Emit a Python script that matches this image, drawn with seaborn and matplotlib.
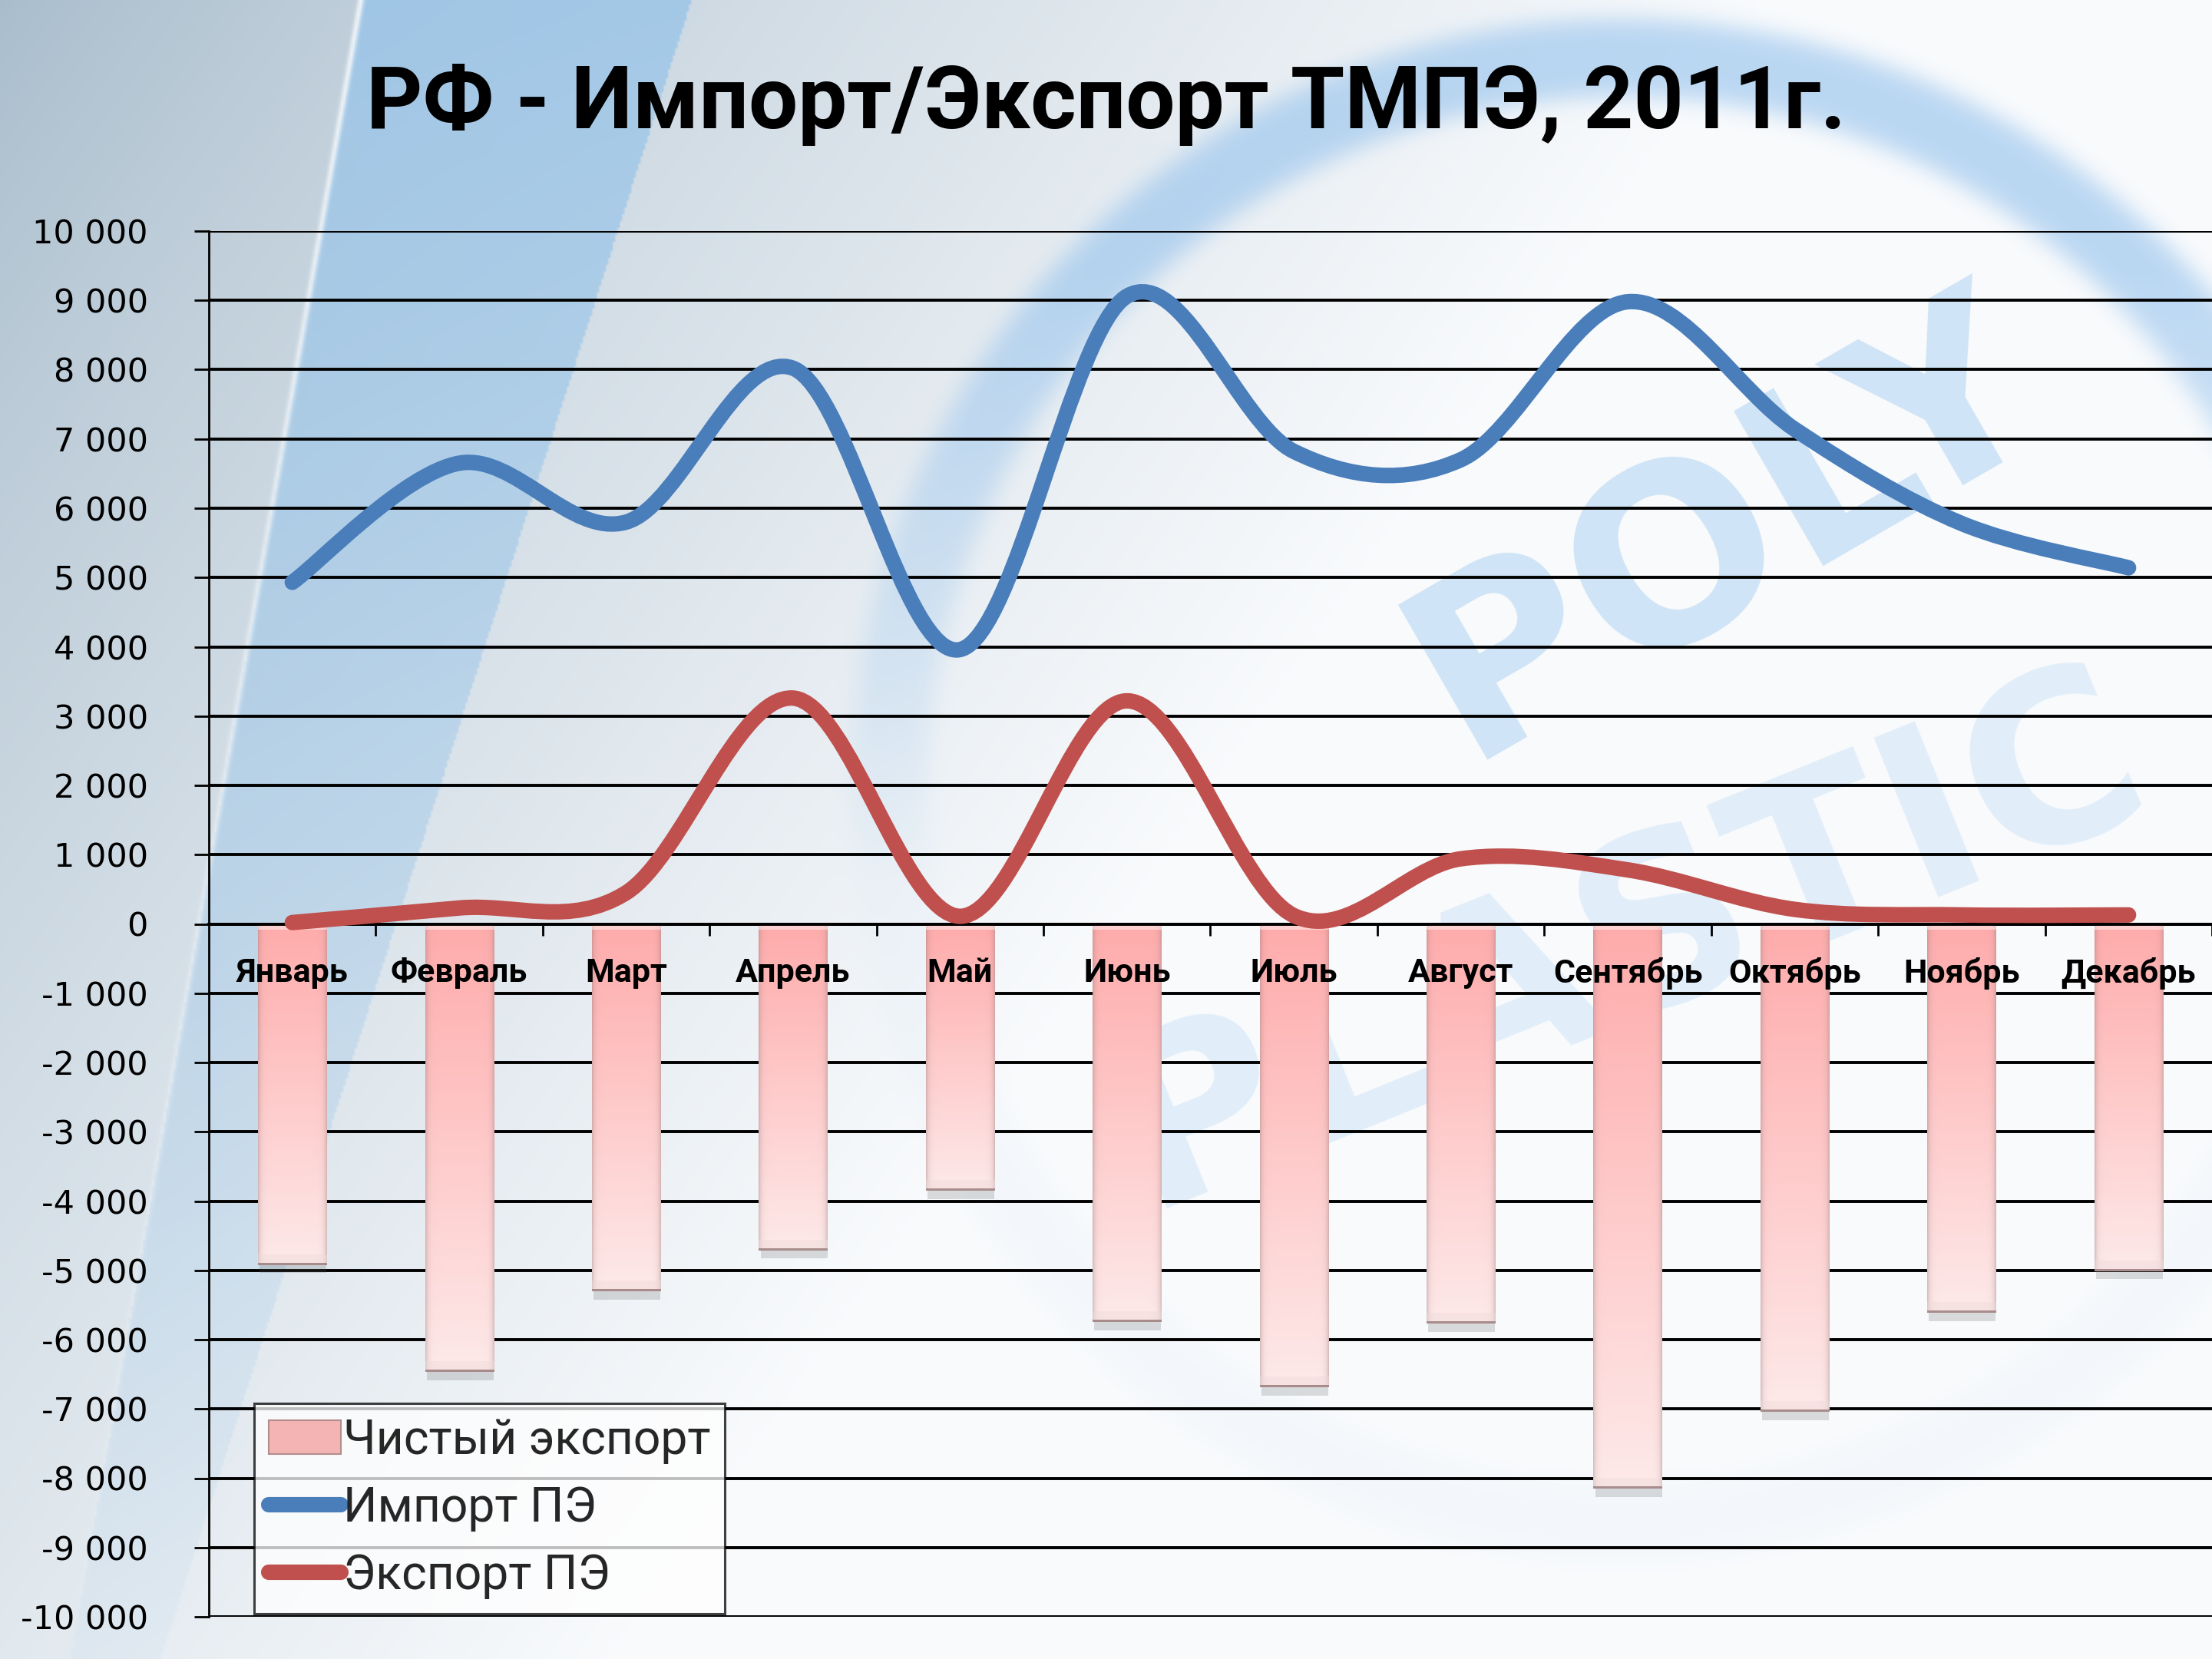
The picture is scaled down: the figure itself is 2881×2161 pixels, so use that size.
import numpy as np
import pandas as pd
import matplotlib
matplotlib.use("Agg")
import matplotlib.pyplot as plt
import seaborn as sns
from matplotlib.path import Path
from matplotlib.patches import PathPatch, Rectangle, Patch
from matplotlib.lines import Line2D

# ---------------- data ----------------
months = ["Январь", "Февраль", "Март", "Апрель", "Май", "Июнь",
          "Июль", "Август", "Сентябрь", "Октябрь", "Ноябрь", "Декабрь"]
import_pe = [4930, 6650, 5800, 8020, 3960, 9060, 6820, 6700, 8980, 7140, 5780, 5140]
export_pe = [20, 230, 450, 3260, 110, 3220, 120, 940, 780, 210, 130, 130]
net_export = [-4920, -6470, -5300, -4710, -3850, -5750, -6690, -5770, -8150, -7040, -5610, -5010]
y_ticks = list(range(-10000, 10001, 1000))
title = "РФ - Импорт/Экспорт ТМПЭ, 2011г."
legend_labels = ["Чистый экспорт", "Импорт ПЭ", "Экспорт ПЭ"]

W, H, DPI = 2881, 2161, 100
BLUE = "#4A7EBB"
RED = "#C0504D"

sns.set_style("white")
plt.rcParams["font.family"] = ["DejaVu Sans"]

fig = plt.figure(figsize=(W / DPI, H / DPI), dpi=DPI)

# ---------------- background (slide decoration) ----------------
h, w = H // 3, W // 3
X, Y = np.meshgrid(np.linspace(0, W, w), np.linspace(0, H, h))
c0 = np.array([0.66, 0.74, 0.80])
c1 = np.array([0.975, 0.982, 0.99])
t = np.clip(X / W * 1.25 + Y / H * 0.65, 0, 1) ** 0.8
img = c0 * (1 - t[..., None]) + c1 * t[..., None]

band_col = np.array([0.60, 0.77, 0.91])
e1 = 469 - 0.175 * Y
e2 = 900 - 0.32 * Y
inband = (X > e1) & (X < e2)
a = np.where(inband, 0.8 * np.clip(1 - Y / H * 0.9, 0, 1), 0)
img = img * (1 - a[..., None]) + band_col * a[..., None]
wl = np.exp(-((X - e1) / 4.0) ** 2) * 0.8 * np.clip(1 - Y / H, 0, 1)
img = img * (1 - wl[..., None]) + 1.0 * wl[..., None]

ring_c = np.array([0.60, 0.77, 0.93])
R = np.hypot(X - 2113, Y - 1029)
ring = np.exp(-((R - 955) / 55.0) ** 4)
ra = ring * (0.05 + 0.6 * np.clip((1150 - Y) / 800, 0, 1))
img = img * (1 - ra[..., None]) + ring_c * ra[..., None]

bgax = fig.add_axes([0, 0, 1, 1], zorder=-5)
bgax.imshow(np.clip(img, 0, 1), extent=[0, W, H, 0], aspect="auto", interpolation="bilinear")
bgax.set_xlim(0, W)
bgax.set_ylim(H, 0)
bgax.axis("off")
bgax.text(2250, 690, "POLY", rotation=30, color=(0.62, 0.79, 0.94), alpha=0.45,
          fontsize=230, fontweight="bold", ha="center", va="center")
bgax.text(2120, 1230, "PLASTIC", rotation=22, color=(0.62, 0.79, 0.94), alpha=0.25,
          fontsize=220, fontweight="bold", ha="center", va="center")

# ---------------- main axes ----------------
ax = fig.add_axes([272 / W, 1 - 2106 / H, 1 - 272 / W, (2106 - 301) / H])
ax.set_facecolor("none")

df = pd.DataFrame({"Месяц": months, "Чистый экспорт": net_export})
sns.barplot(data=df, x="Месяц", y="Чистый экспорт", ax=ax, width=0.41,
            color="#F6B8B8", saturation=1, zorder=3)

ax.set_xlim(-0.5, 11.5)
ax.set_ylim(-10000, 10000)

px_per_unit = (2106 - 301) / 20000.0
for p in list(ax.patches):
    x0, wb = p.get_x(), p.get_width()
    yb = [p.get_y(), p.get_y() + p.get_height()]
    ymin, ymax = min(yb), max(yb)
    rows = max(int(round((ymax - ymin) * px_per_unit)), 12)
    cols = 88
    tt = np.linspace(0, 1, rows)[:, None, None]
    top_c = np.array([1.0, 0.67, 0.67])
    bot_c = np.array([0.995, 0.915, 0.915])
    g = top_c * (1 - tt) + bot_c * tt
    g = np.repeat(g, cols, axis=1)
    u = np.linspace(0, 1, cols)
    edge = np.exp(-u / 0.035) + np.exp(-(1 - u) / 0.035)
    g = g * (1 - 0.35 * edge[None, :, None]) + np.array([0.55, 0.45, 0.45]) * 0.35 * edge[None, :, None]
    g[:8] = g[:8] * 0.55 + 0.45
    nb = min(14, rows // 3)
    g[rows - nb:rows - 3] = g[rows - nb:rows - 3] * 0.6 + np.array([0.93, 0.85, 0.85]) * 0.4
    g[rows - 3:] = np.array([0.66, 0.55, 0.55])
    ax.imshow(np.clip(g, 0, 1), extent=[x0, x0 + wb, ymin, ymax], origin="upper",
              aspect="auto", zorder=3, interpolation="bilinear")
    ax.add_patch(Rectangle((x0 + 0.01, ymin - 120), wb - 0.01, 120, color="0.35",
                           alpha=0.2, lw=0, zorder=2.9))
    p.set_visible(False)

ax.set_xlim(-0.5, 11.5)
ax.set_ylim(-10000, 10000)


def smooth_path(xs, ys):
    pts = np.column_stack([xs, ys]).astype(float)
    n = len(pts)
    verts = [pts[0]]
    codes = [Path.MOVETO]
    for i in range(n - 1):
        p0 = pts[max(i - 1, 0)]
        p1 = pts[i]
        p2 = pts[i + 1]
        p3 = pts[min(i + 2, n - 1)]
        verts += [p1 + (p2 - p0) / 6.0, p2 - (p3 - p1) / 6.0, p2]
        codes += [Path.CURVE4] * 3
    return Path(verts, codes)


xpos = np.arange(len(months))
for series, col in [(import_pe, BLUE), (export_pe, RED)]:
    ax.add_patch(PathPatch(smooth_path(xpos, series), facecolor="none", edgecolor=col,
                           lw=14.5, capstyle="round", joinstyle="round", zorder=6))

# axes styling
ax.set_xlabel("")
ax.set_ylabel("")
for s in ["top", "right"]:
    ax.spines[s].set_visible(False)
ax.spines["left"].set_color("black")
ax.spines["left"].set_linewidth(2.0)
ax.spines["bottom"].set_position(("data", 0))
ax.spines["bottom"].set_color("black")
ax.spines["bottom"].set_linewidth(2.8)
ax.spines["bottom"].set_zorder(4)

ax.set_yticks(y_ticks)
ax.set_yticklabels([f"{v:,}".replace(",", " ") for v in y_ticks])
ax.tick_params(axis="y", length=14, width=2, pad=43, labelsize=31, colors="black", left=True)
ax.yaxis.grid(True, color="black", lw=2.8)
ax.xaxis.grid(False)
ax.set_axisbelow(True)

ax.set_xticks(xpos)
ax.set_xticklabels(months, fontsize=31, fontweight="bold", family="Roboto")
ax.set_xticks(np.arange(0.5, 12, 1), minor=True)
ax.tick_params(axis="x", which="major", length=0, pad=31, colors="black", bottom=True)
ax.tick_params(axis="x", which="minor", length=11, width=2, direction="out", color="black", bottom=True)
ax.xaxis.set_zorder(5)

# title
fig.text(1441 / W, 1 - 167 / H, title, ha="center", va="baseline",
         fontsize=82, fontweight="bold", family="Roboto", color="black")

# legend
handles = [Patch(facecolor="#F4B4B4", edgecolor="#B48C8C", lw=1.5),
           Line2D([], [], color=BLUE, lw=14.5, solid_capstyle="round"),
           Line2D([], [], color=RED, lw=14.5, solid_capstyle="round")]
leg = fig.legend(handles, legend_labels, loc="upper left", bbox_to_anchor=(331 / W, 1 - 1828 / H),
                 frameon=True, fancybox=False, prop={"family": "Roboto", "size": 45},
                 handlelength=1.5, handleheight=0.7, handletextpad=0.05, borderpad=0.3,
                 labelspacing=0.45, borderaxespad=0, framealpha=0.75, facecolor="white",
                 edgecolor="black")
leg.get_frame().set_linewidth(2.2)

fig.savefig("out.png", dpi=DPI)
